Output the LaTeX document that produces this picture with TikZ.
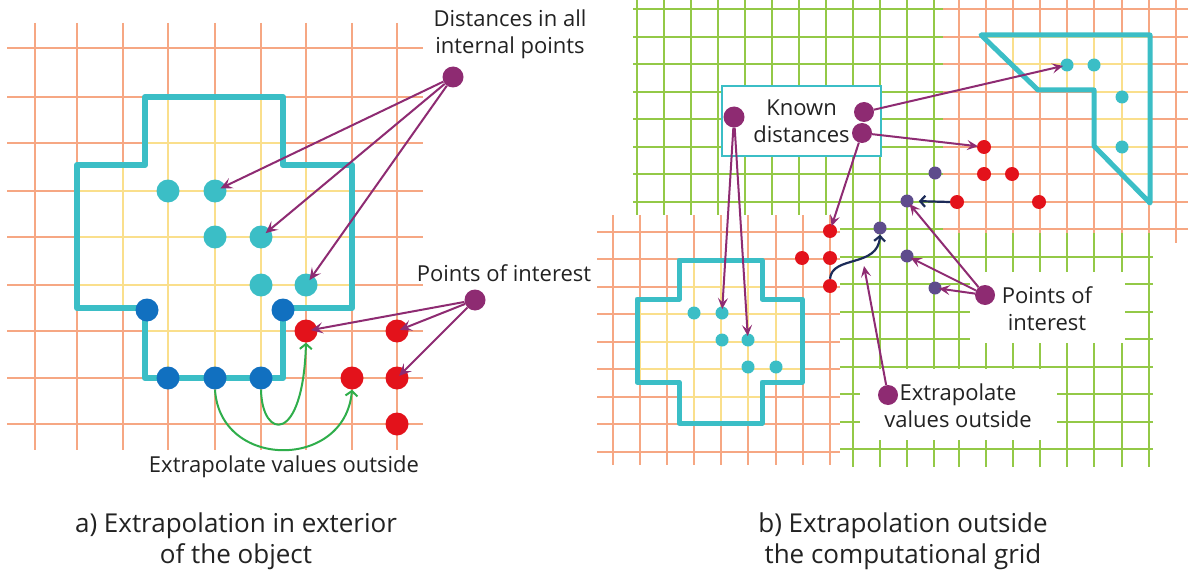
\documentclass[tikz,border=0pt]{standalone}
\usepackage{fontspec}
\setmainfont{Open Sans}
\usetikzlibrary{arrows.meta,calc}
\definecolor{gridor}{HTML}{F6A783}
\definecolor{gridye}{HTML}{FADF8C}
\definecolor{gridgr}{HTML}{93C947}
\definecolor{cyanb}{HTML}{3BBEC6}
\definecolor{bluedot}{HTML}{1170C0}
\definecolor{reddot}{HTML}{E3121B}
\definecolor{purp}{HTML}{8E2B72}
\definecolor{slate}{HTML}{5E4C8C}
\definecolor{navy}{HTML}{1C2B58}
\definecolor{garrow}{HTML}{2FAE4B}
\definecolor{txt}{HTML}{222222}
\begin{document}
\begin{tikzpicture}[x=1pt,y=-1pt,
  dot/.style={circle,inner sep=0pt,minimum size=#1},
  orline/.style={gridor,line width=2.5pt},
  yeline/.style={gridye,line width=2.5pt},
  grline/.style={gridgr,line width=2.7pt},
  outline/.style={cyanb,line width=6pt,line join=round},
  parrow/.style={purp,line width=2pt,-{Stealth[length=12pt,width=11pt,inset=5pt]}},
  parrowb/.style={purp,line width=2pt,-{Stealth[length=11pt,width=10pt,inset=4.5pt]}},
  grarrow/.style={garrow,line width=2pt,-{Straight Barb[length=5pt,width=12pt]}},
  narrow/.style={navy,line width=2.2pt,-{Straight Barb[length=5pt,width=11pt]}},
  lbl/.style={font=\fontsize{22}{27}\selectfont,text=txt,align=center,inner sep=0pt},
  caption/.style={font=\fontsize{26}{31}\selectfont,text=txt,align=center,inner sep=0pt}
]
\useasboundingbox (0,0) rectangle (1188,575);
\fill[white] (0,0) rectangle (1188,575);

% ================= left panel =================
\foreach \x in {35,77,123,168,215,261,306,352,397} \draw[orline] (\x,23) -- (\x,450);
\foreach \y in {48,97,143,191,237,285,331,378,424} \draw[orline] (7,\y) -- (423,\y);
\def\polyA{(145,97) -- (283,97) -- (283,165) -- (352,165) -- (352,308) -- (283,308) -- (283,378) -- (145,378) -- (145,308) -- (77,308) -- (77,165) -- (145,165) -- cycle}
\begin{scope}
  \clip \polyA;
  \fill[white] (0,0) rectangle (600,480);
  \foreach \x in {35,77,123,168,215,261,306,352,397} \draw[yeline] (\x,0) -- (\x,480);
  \foreach \y in {48,97,143,191,237,285,331,378,424} \draw[yeline] (0,\y) -- (600,\y);
\end{scope}
\draw[outline] \polyA;

% dots
\node[dot=23pt,fill=cyanb] (c1) at (168,191) {};
\node[dot=23pt,fill=cyanb] (c2) at (215,191) {};
\node[dot=23pt,fill=cyanb] (c3) at (215,237) {};
\node[dot=23pt,fill=cyanb] (c4) at (261,237) {};
\node[dot=23pt,fill=cyanb] (c5) at (261,285) {};
\node[dot=23pt,fill=cyanb] (c6) at (306,285) {};
\node[dot=23pt,fill=bluedot] (b1) at (147,310) {};
\node[dot=23pt,fill=bluedot] (b2) at (283,310) {};
\node[dot=23pt,fill=bluedot] (b3) at (168,378) {};
\node[dot=23pt,fill=bluedot] (b4) at (215,378) {};
\node[dot=23pt,fill=bluedot] (b5) at (261,378) {};
\node[dot=23pt,fill=reddot] (r1) at (306,331) {};
\node[dot=23pt,fill=reddot] (r2) at (397,331) {};
\node[dot=23pt,fill=reddot] (r3) at (352,378) {};
\node[dot=23pt,fill=reddot] (r4) at (397,378) {};
\node[dot=23pt,fill=reddot] (r5) at (397,424) {};
\node[dot=21pt] (P1) at (453,77) {};
\node[dot=21pt] (P2) at (475,300) {};

% arrows
\draw[parrow,shorten >=6pt] (P1) -- (c2.center);
\draw[parrow,shorten >=6pt] (P1) -- (c4.center);
\draw[parrow,shorten >=6pt] (P1) -- (c6.center);
\draw[parrow,shorten >=5pt] (P2) -- (r1.center);
\draw[parrow,shorten >=3pt] (P2) -- (r2.center);
\draw[parrow,shorten >=3pt] (P2) -- (r4.center);
\draw[grarrow] (b5.south) .. controls (262,440) and (303,445) .. (r1.south);
\draw[grarrow] (b4.south) .. controls (220,470) and (345,470) .. (r3.south);
\fill[purp] (P1) circle (10.5pt);
\fill[purp] (P2) circle (10.5pt);

\node[lbl] (tdist) at (510,34) {Distances in all\\internal points};
\node[lbl] (tpoi) at (504,273) {Points of interest};
\node[lbl] (text) at (284,467) {Extrapolate values outside};
\node[caption] (capa) at (236,541) {a) Extrapolation in exterior\\of the object};

% ================= right panel =================
% green grid
\foreach \x in {637,664,691,718,745,772,799,826} \draw[grline] (\x,0) -- (\x,215);
\foreach \x in {853,880,907,934} \draw[grline] (\x,0) -- (\x,467);
\foreach \x in {959,986,1013,1040,1067,1094,1122,1149} \draw[grline] (\x,233) -- (\x,467);
\foreach \y in {9,37,64,92,119,147,174,202} \draw[grline] (633,\y) -- (943,\y);
\draw[grline] (840,229) -- (943,229);
\foreach \y in {257,284,312,339,367,394,422,449} \draw[grline] (840,\y) -- (1153,\y);
% orange bottom-left
\foreach \x in {613,640,667,694,721,748,776,803,830} \draw[orline] (\x,215) -- (\x,465);
\foreach \y in {232,259,287,314,342,369,397,424,452} \draw[orline] (597,\y) -- (840,\y);
% orange top-right
\foreach \x in {959,986,1013,1040,1067,1094,1122,1149} \draw[orline] (\x,0) -- (\x,233);
\draw[orline] (1176,0) -- (1176,243);
\foreach \y in {9,37,64,92,119,147,174,202,229} \draw[orline] (943,\y) -- (1188,\y);
% white label areas
\fill[white] (970,272) rectangle (1125,343);
\fill[white] (860,369) rectangle (1057,440);

% cross object
\def\polyB{(679,260) -- (762,260) -- (762,299) -- (802,299) -- (802,382) -- (762,382) -- (762,423) -- (679,423) -- (679,382) -- (637,382) -- (637,299) -- (679,299) -- cycle}
\begin{scope}
  \clip \polyB;
  \fill[white] (600,200) rectangle (850,470);
  \foreach \x in {613,640,667,694,721,748,776,803,830} \draw[yeline] (\x,200) -- (\x,470);
  \foreach \y in {232,259,287,314,342,369,397,424,452} \draw[yeline] (600,\y) -- (850,\y);
\end{scope}
\draw[outline,line width=5pt] \polyB;

% L object
\def\polyC{(981,35) -- (1150,35) -- (1150,203) -- (1094,146) -- (1094,90) -- (1038,90) -- cycle}
\begin{scope}
  \clip \polyC;
  \fill[white] (940,0) rectangle (1188,240);
  \foreach \x in {959,986,1013,1040,1067,1094,1122,1149} \draw[yeline] (\x,0) -- (\x,240);
  \foreach \y in {9,37,64,92,119,147,174,202,229} \draw[yeline] (940,\y) -- (1188,\y);
\end{scope}
\draw[outline,line width=5pt] \polyC;

% known distances box
\node[draw=cyanb,line width=1.2pt,fill=white,minimum width=159pt,minimum height=70pt,
      lbl] (kbox) at (801.5,121) {Known\\distances};

% dots
\node[dot=13pt,fill=cyanb] (x1) at (694,313) {};
\node[dot=13pt,fill=cyanb] (x2) at (722,313) {};
\node[dot=13pt,fill=cyanb] (x3) at (722,340) {};
\node[dot=13pt,fill=cyanb] (x4) at (748,340) {};
\node[dot=13pt,fill=cyanb] (x5) at (748,367) {};
\node[dot=13pt,fill=cyanb] (x6) at (776,367) {};
\node[dot=14pt,fill=reddot] (rb1) at (830,231) {};
\node[dot=14pt,fill=reddot] (rb2) at (802,258) {};
\node[dot=14pt,fill=reddot] (rb3) at (830,258) {};
\node[dot=14pt,fill=reddot] (rb4) at (830,286) {};
\node[dot=13pt,fill=slate] (s1) at (880,228) {};
\node[dot=13pt,fill=slate] (s2) at (907,201) {};
\node[dot=13pt,fill=slate] (s3) at (935,173) {};
\node[dot=13pt,fill=slate] (s4) at (907,256) {};
\node[dot=13pt,fill=slate] (s5) at (935,288) {};
\node[dot=14pt,fill=reddot] (rt1) at (984,147) {};
\node[dot=14pt,fill=reddot] (rt2) at (984,174) {};
\node[dot=14pt,fill=reddot] (rt3) at (1012,174) {};
\node[dot=14pt,fill=reddot] (rt4) at (957,202) {};
\node[dot=14pt,fill=reddot] (rt5) at (1039,202) {};
\node[dot=13pt,fill=cyanb] (l1) at (1067,65) {};
\node[dot=13pt,fill=cyanb] (l2) at (1094,65) {};
\node[dot=13pt,fill=cyanb] (l3) at (1122,97) {};
\node[dot=13pt,fill=cyanb] (l4) at (1122,147) {};

\node[dot=21pt] (KL) at (734,117) {};
\node[dot=20pt] (KR1) at (864,112) {};
\node[dot=20pt] (KR2) at (862,133) {};
\node[dot=20pt] (PI) at (985,295) {};
\node[dot=20pt] (EX) at (888,395) {};
\coordinate (ce) at (864,266);

% navy extrapolation curves
\draw[narrow] (rb4.north) .. controls (832,255) and (878,268) .. (s1.south);
\draw[narrow,shorten >=5pt] (rt4.west) -- (s2.east);

% purple arrows
\draw[parrowb,shorten >=4pt] (KL) -- (x2.center);
\draw[parrowb,shorten >=4pt] (KL) -- (x4.center);
\draw[parrowb,shorten >=4pt] (KR1) -- (l1.center);
\draw[parrowb,shorten >=6pt] (KR2) -- (rt1.center);
\draw[parrowb,shorten >=5pt] (KR2) -- (rb1.center);
\draw[parrowb,shorten >=4pt] (PI) -- (s2.center);
\draw[parrowb,shorten >=4pt] (PI) -- (s4.center);
\draw[parrowb,shorten >=4pt] (PI) -- (s5.center);
\draw[parrowb] (EX) -- (ce);

\fill[purp] (KL) circle (10.5pt);
\fill[purp] (KR1) circle (10pt);
\fill[purp] (KR2) circle (10pt);
\fill[purp] (PI) circle (10pt);
\fill[purp] (EX) circle (10pt);

\node[lbl] (tpoi2) at (1047,309) {Points of\\interest};
\node[lbl] (text2) at (958,406) {Extrapolate\\values outside};
\node[caption] (capb) at (903,541) {b) Extrapolation outside\\the computational grid};
\end{tikzpicture}
\end{document}
